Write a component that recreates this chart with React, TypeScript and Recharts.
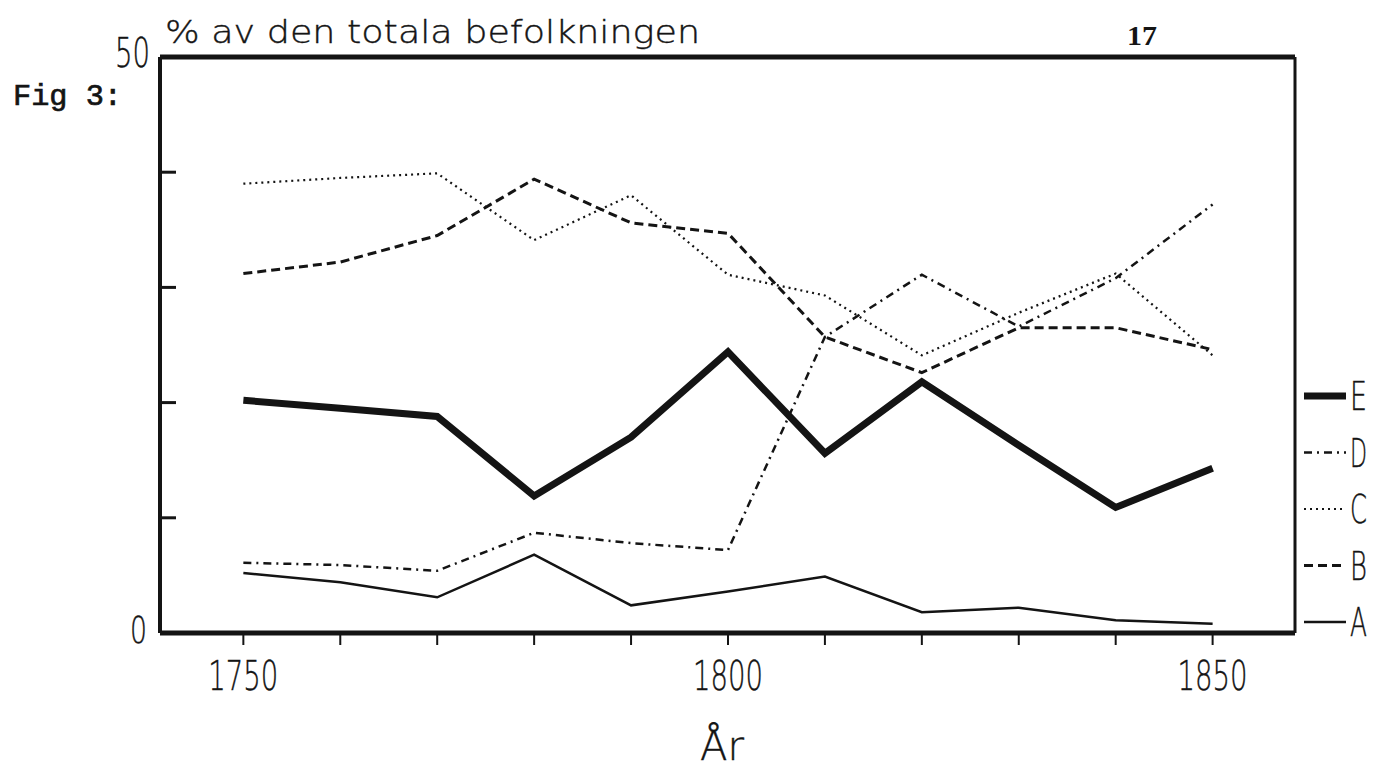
import React from 'react';
import { LineChart, Line, XAxis, YAxis, Legend } from 'recharts';

const years = [1750, 1760, 1770, 1780, 1790, 1800, 1810, 1820, 1830, 1840, 1850];
const seriesA = [5.2, 4.4, 3.1, 6.8, 2.4, 3.6, 4.9, 1.8, 2.2, 1.1, 0.8];
const seriesB = [31.2, 32.2, 34.5, 39.4, 35.6, 34.7, 25.7, 22.6, 26.5, 26.5, 24.6];
const seriesC = [39.0, 39.5, 39.9, 34.1, 38.0, 31.1, 29.3, 24.1, 27.8, 31.2, 24.1];
const seriesD = [6.1, 5.9, 5.4, 8.7, 7.8, 7.2, 25.7, 31.1, 26.6, 30.8, 37.2];
const seriesE = [20.2, 19.5, 18.8, 11.9, 17.0, 24.4, 15.6, 21.8, 16.3, 10.9, 14.3];

const xTicks = [1750, 1760, 1770, 1780, 1790, 1800, 1810, 1820, 1830, 1840, 1850];
const xLabelled = [1750, 1800, 1850];
const yTicks = [0, 10, 20, 30, 40, 50];
const yLabelled = [0, 50];
const legendOrder = ['E', 'D', 'C', 'B', 'A'];

const data = years.map((year, i) => ({
  year,
  A: seriesA[i],
  B: seriesB[i],
  C: seriesC[i],
  D: seriesD[i],
  E: seriesE[i],
}));

const INK = '#141414';
const PLOT_FONT = '"DejaVu Sans", sans-serif';

const styles: Record<string, { width: number; dash?: string }> = {
  A: { width: 2.5 },
  B: { width: 3, dash: '9 5' },
  C: { width: 2.2, dash: '2 4' },
  D: { width: 2.5, dash: '8 5 2 5' },
  E: { width: 7 },
};

const XTick = (props: any) => {
  const { x, y, payload } = props;
  const v = payload.value;
  return (
    <g>
      <line x1={x} x2={x} y1={y} y2={y + 12} stroke={INK} strokeWidth={2} />
      {xLabelled.includes(v) && (
        <text
          x={x}
          y={y + 57}
          textAnchor="middle"
          fontFamily={PLOT_FONT}
          fontWeight={200}
          fontSize={41}
          textLength={70}
          lengthAdjust="spacingAndGlyphs"
          fill={INK}
          stroke={INK}
          strokeWidth={0.4}
        >
          {String(v)}
        </text>
      )}
    </g>
  );
};

const YTick = (props: any) => {
  const { x, y, payload } = props;
  const v = payload.value;
  const top = v === 50;
  return (
    <g>
      {!yLabelled.includes(v) && (
        <line x1={x} x2={x + 16} y1={y} y2={y} stroke={INK} strokeWidth={3} />
      )}
      {yLabelled.includes(v) && (
        <text
          x={top ? x - 10 : x - 13}
          y={y + 10}
          textAnchor="end"
          fontFamily={PLOT_FONT}
          fontWeight={200}
          fontSize={top ? 40 : 37}
          textLength={top ? 35 : 17}
          lengthAdjust="spacingAndGlyphs"
          fill={INK}
          stroke={INK}
          strokeWidth={0.4}
        >
          {String(v)}
        </text>
      )}
    </g>
  );
};

const LegendContent = (props: any) => {
  const payload: any[] = props.payload || [];
  const keys = legendOrder.filter((k) => payload.some((p) => p.dataKey === k));
  return (
    <svg width={80} height={270} style={{ display: 'block', overflow: 'visible' }}>
      {keys.map((k, i) => {
        const cy = 20 + i * 56.5;
        const s = styles[k];
        return (
          <g key={k}>
            <line
              x1={6}
              x2={48}
              y1={cy}
              y2={cy}
              stroke={INK}
              strokeWidth={s.width}
              strokeDasharray={s.dash}
            />
            <text
              x={52}
              y={cy + 14}
              fontFamily={PLOT_FONT}
              fontWeight={200}
              fontSize={39}
              textLength={17}
              lengthAdjust="spacingAndGlyphs"
              fill={INK}
              stroke={INK}
              strokeWidth={0.4}
            >
              {k}
            </text>
          </g>
        );
      })}
    </svg>
  );
};

export default function App() {
  return (
    <div style={{ position: 'absolute', left: 0, top: 0, width: 1391, height: 773, background: '#fff' }}>
      <LineChart
        width={1391}
        height={773}
        data={data}
        margin={{ top: 56, right: 15, bottom: 139, left: 159 }}
      >
        <XAxis
          dataKey="year"
          type="number"
          domain={[1741.4, 1858.5]}
          allowDataOverflow
          ticks={xTicks}
          height={1}
          tickSize={0}
          tickMargin={0}
          tickLine={false}
          tick={<XTick />}
          axisLine={{ stroke: INK, strokeWidth: 5 }}
          interval={0}
        />
        <XAxis
          xAxisId="top"
          orientation="top"
          dataKey="year"
          type="number"
          domain={[1741.4, 1858.5]}
          allowDataOverflow
          height={1}
          tick={false}
          tickLine={false}
          axisLine={{ stroke: INK, strokeWidth: 5 }}
        />
        <YAxis
          type="number"
          domain={[0, 50]}
          allowDataOverflow
          ticks={yTicks}
          width={1}
          tickSize={0}
          tickMargin={0}
          tickLine={false}
          tick={<YTick />}
          axisLine={{ stroke: INK, strokeWidth: 4 }}
          interval={0}
        />
        <YAxis
          yAxisId="right"
          orientation="right"
          type="number"
          domain={[0, 50]}
          allowDataOverflow
          width={1}
          tick={false}
          tickLine={false}
          axisLine={{ stroke: INK, strokeWidth: 3 }}
        />
        <Legend
          layout="vertical"
          align="right"
          verticalAlign="top"
          content={<LegendContent />}
          wrapperStyle={{ position: 'absolute', left: 1298, top: 376, width: 80, height: 270 }}
        />
        {['A', 'B', 'C', 'D', 'E'].map((k) => (
          <Line
            key={k}
            dataKey={k}
            type="linear"
            stroke={INK}
            strokeWidth={styles[k].width}
            strokeDasharray={styles[k].dash}
            strokeLinejoin="miter"
            dot={false}
            activeDot={false}
            isAnimationActive={false}
          />
        ))}
      </LineChart>
      <svg
        width={1391}
        height={773}
        style={{ position: 'absolute', left: 0, top: 0, pointerEvents: 'none' }}
      >
        <text
          x={165}
          y={43}
          fontFamily={PLOT_FONT}
          fontWeight={200}
          fontSize={32}
          textLength={535}
          lengthAdjust="spacingAndGlyphs"
          fill={INK}
          stroke={INK}
          strokeWidth={0.4}
        >
          % av den totala befolkningen
        </text>
        <text
          x={13}
          y={105}
          fontFamily='"Liberation Mono", monospace'
          fontWeight={400}
          fontSize={30}
          textLength={109}
          lengthAdjust="spacingAndGlyphs"
          fill={INK}
          stroke={INK}
          strokeWidth={0.7}
        >
          Fig 3:
        </text>
        <text
          x={1127}
          y={45}
          fontFamily='"Liberation Serif", serif'
          fontWeight={700}
          fontSize={28}
          textLength={30}
          lengthAdjust="spacingAndGlyphs"
          fill={INK}
        >
          17
        </text>
        <text
          x={700}
          y={760}
          fontFamily={PLOT_FONT}
          fontWeight={200}
          fontSize={40}
          textLength={44}
          lengthAdjust="spacingAndGlyphs"
          fill={INK}
          stroke={INK}
          strokeWidth={0.4}
        >
          År
        </text>
      </svg>
    </div>
  );
}
